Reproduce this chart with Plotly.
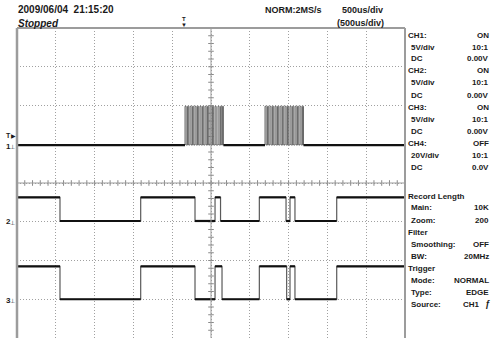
import plotly.graph_objects as go

# ---------------- data (time in us, 500 us/div; levels in divisions) ----------------
X_RANGE = [0, 5000]
Y_RANGE = [-4, 4]

CH1_LOW = 0.98
CH1_HIGH = 1.98
BURST_RISE_US = [2165, 2197, 2229, 2262, 2294, 2326, 2358, 2391, 2423, 2455, 2487, 2519, 2552, 2590, 2623, 2648,
                 3196, 3228, 3260, 3293, 3325, 3357, 3389, 3422, 3454, 3486, 3518, 3551, 3583, 3615, 3647, 3679]
BURST_FALL_US = [2180, 2212, 2244, 2277, 2309, 2341, 2373, 2406, 2438, 2470, 2502, 2534, 2567, 2605, 2638, 2660,
                 3211, 3243, 3275, 3308, 3340, 3372, 3404, 3437, 3469, 3501, 3533, 3566, 3598, 3630, 3662, 3692]

CH2_EDGES_US = [0, 554, 1594, 2294, 2552, 2623, 3123, 3467, 3518, 3582, 4120, 5000]
CH2_STATES = [1, 0, 1, 0, 1, 0, 1, 0, 1, 0, 1]
CH2_HIGH = -0.37
CH2_LOW = -0.98

CH3_EDGES_US = [0, 554, 1594, 2294, 2552, 2642, 3123, 3475, 3518, 3582, 4120, 5000]
CH3_STATES = [1, 0, 1, 0, 1, 0, 1, 0, 1, 0, 1]
CH3_HIGH = -2.15
CH3_LOW = -3.0

HEADER = {"date": "2009/06/04  21:15:20", "status": "Stopped", "mode": "NORM:2MS/s",
          "tb": "500us/div", "tb2": "(500us/div)"}
PANEL_TOP = [("CH1:", "ON", 0), ("5V/div", "10:1", 1), ("DC", "0.00V", 1),
             ("CH2:", "ON", 0), ("5V/div", "10:1", 1), ("DC", "0.00V", 1),
             ("CH3:", "ON", 0), ("5V/div", "10:1", 1), ("DC", "0.00V", 1),
             ("CH4:", "OFF", 0), ("20V/div", "10:1", 1), ("DC", "0.0V", 1)]
PANEL_BOT = [("Record Length", "", 0), ("Main:", "10K", 1), ("Zoom:", "200", 1),
             ("Filter", "", 0), ("Smoothing:", "OFF", 1), ("BW:", "20MHz", 1),
             ("Trigger", "", 0), ("Mode:", "NORMAL", 1), ("Type:", "EDGE", 1),
             ("Source:", "CH1", 1)]

# ---------------- layout helpers (pixels -> paper) ----------------
L, R, T, B = 17, 405, 28, 338
W, H = 493, 338
def PX(px): return (px - L) / (R - L)
def PY(py): return (B - py) / (B - T)

def steps(edges, states, hi, lo):
    xs, ys, hx, hy = [], [], [], []
    for i, s in enumerate(states):
        lv = hi if s else lo
        xs += [edges[i], edges[i + 1]]
        ys += [lv, lv]
        hx += [edges[i], edges[i + 1], None]
        hy += [lv, lv, None]
    return xs, ys, hx, hy

fig = go.Figure()

# center axis tick marks
tick_x = [i * 100 for i in range(1, 50)]
tick_y = [-4 + i * 0.2 for i in range(1, 40)]
fig.add_trace(go.Scatter(x=tick_x, y=[0] * len(tick_x), mode="markers",
                         marker=dict(symbol="line-ns", size=4, line=dict(color="#8a8a8a", width=1)),
                         hoverinfo="skip", showlegend=False))
fig.add_trace(go.Scatter(x=[2500] * len(tick_y), y=tick_y, mode="markers",
                         marker=dict(symbol="line-ew", size=4, line=dict(color="#8a8a8a", width=1)),
                         hoverinfo="skip", showlegend=False))

# CH1: baseline + bursts
bx, by = [0], [CH1_LOW]
for r_, f_ in zip(BURST_RISE_US, BURST_FALL_US):
    bx += [r_, r_, f_, f_]
    by += [CH1_LOW, CH1_HIGH, CH1_HIGH, CH1_LOW]
bx.append(5000); by.append(CH1_LOW)
fig.add_trace(go.Scatter(x=bx, y=by, mode="lines", line=dict(color="#6a6a6a", width=1),
                         hoverinfo="skip", showlegend=False))
fig.add_trace(go.Scatter(x=[0, BURST_RISE_US[0], None, BURST_FALL_US[15], BURST_RISE_US[16], None, BURST_FALL_US[-1], 5000],
                         y=[CH1_LOW, CH1_LOW, None, CH1_LOW, CH1_LOW, None, CH1_LOW, CH1_LOW],
                         mode="lines", line=dict(color="#111", width=2.2), hoverinfo="skip", showlegend=False))

# CH2, CH3
for edges, states, hi, lo in [(CH2_EDGES_US, CH2_STATES, CH2_HIGH, CH2_LOW),
                              (CH3_EDGES_US, CH3_STATES, CH3_HIGH, CH3_LOW)]:
    xs, ys, hx, hy = steps(edges, states, hi, lo)
    fig.add_trace(go.Scatter(x=xs, y=ys, mode="lines", line=dict(color="#5a5a5a", width=1.2),
                             hoverinfo="skip", showlegend=False))
    fig.add_trace(go.Scatter(x=hx, y=hy, mode="lines", line=dict(color="#111", width=2.2),
                             hoverinfo="skip", showlegend=False))

shapes = [
    dict(type="line", xref="x", yref="paper", x0=2500, x1=2500, y0=0, y1=1, line=dict(color="#9a9a9a", width=1)),
    dict(type="line", xref="paper", yref="y", x0=0, x1=1, y0=0, y1=0, line=dict(color="#9a9a9a", width=1)),
    dict(type="line", xref="paper", yref="paper", x0=0, x1=0, y0=0, y1=1, line=dict(color="#9c9c9c", width=2.5)),
    dict(type="line", xref="paper", yref="paper", x0=0, x1=1, y0=1, y1=1, line=dict(color="#9c9c9c", width=2)),
    dict(type="line", xref="paper", yref="paper", x0=1, x1=1, y0=0, y1=1, line=dict(color="#9c9c9c", width=2)),
]

F = "Liberation Sans, Arial, sans-serif"
ann = []
def txt(s, px, py, size=8, anchor="left", color="#1a1a1a"):
    ann.append(dict(text=s, x=PX(px), y=PY(py), xref="paper", yref="paper", showarrow=False,
                    xanchor=anchor, yanchor="middle", font=dict(family=F, size=size, color=color)))

txt("<b>" + HEADER["date"] + "</b>", 16, 10, 10)
txt("<b><i>" + HEADER["status"] + "</i></b>", 16, 23, 10)
txt("<b>" + HEADER["mode"] + "</b>", 263, 10, 9)
txt("<b>" + HEADER["tb"] + "</b>", 340, 10, 9)
txt("<b>" + HEADER["tb2"] + "</b>", 335, 23, 9)

for i, (lab, val, ind) in enumerate(PANEL_TOP):
    y = 35 + i * 12
    txt("<b>" + lab + "</b>", 406 + 3 * ind, y, 8)
    txt("<b>" + val + "</b>", 491, y, 8, anchor="right")
for i, (lab, val, ind) in enumerate(PANEL_BOT):
    y = 196 + i * 12
    txt("<b>" + lab + "</b>", 406 + 3 * ind, y, 8)
    if val:
        if lab == "Source:":
            txt("<b>" + val + "</b>", 482, y, 8, anchor="right")
            txt("<b><i>ƒ</i></b>", 488, y, 9, anchor="center")
        else:
            txt("<b>" + val + "</b>", 491, y, 8, anchor="right")

# channel markers on the left
txt("<b>T</b>", 8, 135, 7, anchor="center")
txt("▶", 13, 136, 6, anchor="center")
for lab, py in [("1", 146), ("2", 222), ("3", 300)]:
    txt("<b>" + lab + "</b>", 8, py, 8, anchor="center")
    txt("⊥", 12.5, py + 1, 6, anchor="center")
# trigger position marker on top
txt("<b>T</b>", 184, 19, 6, anchor="center")
txt("▼", 184, 25, 6, anchor="center")

fig.update_layout(
    width=W, height=H, margin=dict(l=L, r=W - R, t=T, b=H - B),
    paper_bgcolor="white", plot_bgcolor="white",
    shapes=shapes, annotations=ann, showlegend=False,
    xaxis=dict(range=X_RANGE, dtick=500, tick0=0, showgrid=True, gridcolor="#a0a0a0", griddash="1px,2px",
               gridwidth=1, zeroline=False, showticklabels=False, ticks="", showline=False, fixedrange=True),
    yaxis=dict(range=Y_RANGE, dtick=1, tick0=0, showgrid=True, gridcolor="#a0a0a0", griddash="1px,2px",
               gridwidth=1, zeroline=False, showticklabels=False, ticks="", showline=False, fixedrange=True),
)
fig.write_html("out.html", config={"displayModeBar": False},
               post_script="document.body.style.margin='0px';document.body.style.overflow='hidden';")
